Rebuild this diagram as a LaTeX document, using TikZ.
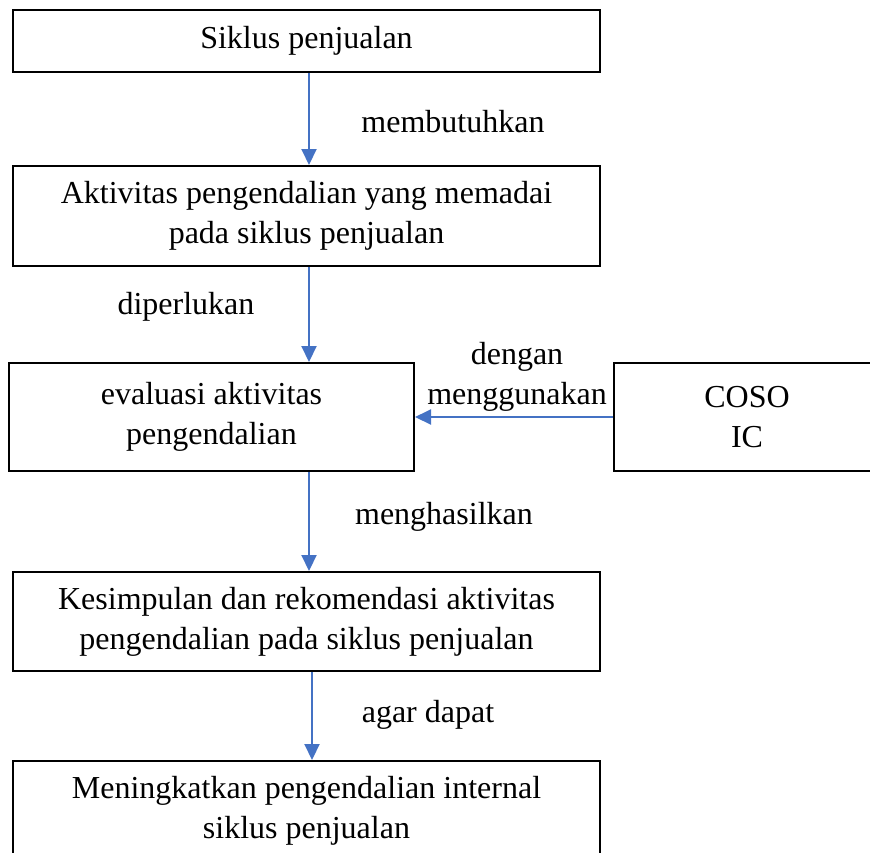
\documentclass[tikz,border=0pt]{standalone}
\usepackage{fontspec}
\setmainfont{Liberation Serif}
\usetikzlibrary{arrows.meta}
\definecolor{flowblue}{HTML}{4472C4}
\tikzset{
  box/.style={draw, line width=1pt, align=center, inner sep=0pt, font=\fontsize{16}{20}\selectfont},
  lbl/.style={align=center, inner sep=0pt, font=\fontsize{16}{20}\selectfont},
  flow/.style={color=flowblue, line width=1pt, -{Triangle[width=7.5pt,length=8pt]}}
}
\begin{document}
\begin{tikzpicture}[x=0.5pt, y=-0.5pt]
% Page size (pixels of the chart)
\useasboundingbox (0,0) rectangle (870,852);
\clip (0,0) rectangle (870,852);

% Draw the boxes
\node[box, minimum width=293.5pt, minimum height=31pt] (siklus) at (306.5,41) {Siklus penjualan};
\node[box, minimum width=293.5pt, minimum height=50pt] (aktivitas) at (306.5,216) {Aktivitas pengendalian yang memadai\\pada siklus penjualan};
\node[box, minimum width=202.5pt, minimum height=54pt] (evaluasi) at (211.5,417) {evaluasi aktivitas\\pengendalian};
\node[box, minimum width=133pt, minimum height=54pt] (coso) at (747,417) {COSO\\IC};
\node[box, minimum width=293.5pt, minimum height=49.5pt] (kesimpulan) at (306.5,621.5) {Kesimpulan dan rekomendasi aktivitas\\pengendalian pada siklus penjualan};
\node[box, minimum width=293.5pt, minimum height=49.5pt] (meningkatkan) at (306.5,810.5) {Meningkatkan pengendalian internal\\siklus penjualan};

% Draw the arrows and insert the labels
\draw[flow] ([xshift=1.25pt]siklus.south) -- ([xshift=1.25pt]aktivitas.north);
\node[lbl] (membutuhkan) at (453,122) {membutuhkan};
\draw[flow] ([xshift=1.25pt]aktivitas.south) -- ([xshift=1.25pt]evaluasi.north -| aktivitas.south);
\node[lbl] (diperlukan) at (186,307) {diperlukan};
\draw[flow] (coso.west) -- (evaluasi.east);
\node[lbl] (menggunakan) at (517,377) {dengan\\menggunakan};
\draw[flow] ([xshift=1.25pt]evaluasi.south -| aktivitas.south) -- ([xshift=1.25pt]kesimpulan.north);
\node[lbl] (menghasilkan) at (444,517) {menghasilkan};
\draw[flow] ([xshift=2.75pt]kesimpulan.south) -- ([xshift=2.75pt]meningkatkan.north);
\node[lbl] (agar) at (428,715) {agar dapat};
\end{tikzpicture}
\end{document}
